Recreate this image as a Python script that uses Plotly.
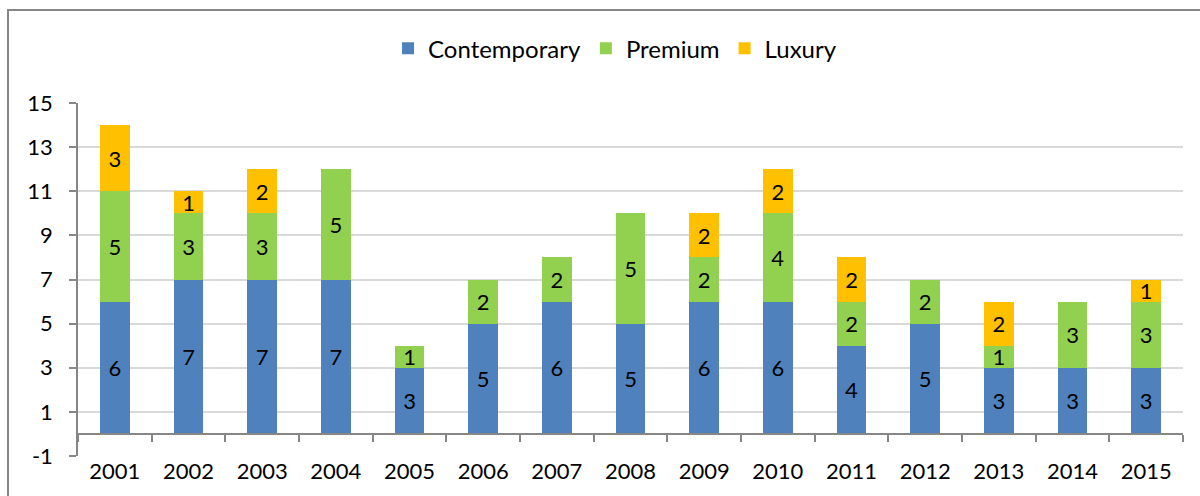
import plotly.graph_objects as go

years = ["2001", "2002", "2003", "2004", "2005", "2006", "2007", "2008",
         "2009", "2010", "2011", "2012", "2013", "2014", "2015"]
contemporary = [6, 7, 7, 7, 3, 5, 6, 5, 6, 6, 4, 5, 3, 3, 3]
premium = [5, 3, 3, 5, 1, 2, 2, 5, 2, 4, 2, 2, 1, 3, 3]
luxury = [3, 1, 2, 0, 0, 0, 0, 0, 2, 2, 2, 0, 2, 0, 1]
y_ticks = [-1, 1, 3, 5, 7, 9, 11, 13, 15]

series = [("Contemporary", contemporary, "#4F81BD"),
          ("Premium", premium, "#92D050"),
          ("Luxury", luxury, "#FFC000")]

FONT = "Lato, Carlito, Calibri, sans-serif"
AXIS = "#868686"
FS = 22

fig = go.Figure()
for name, vals, color in series:
    y = [v if v else None for v in vals]
    fig.add_trace(go.Bar(
        x=years, y=y, name=name,
        marker=dict(color=color, line=dict(width=0)),
        text=[str(v) if v else "" for v in vals],
        textposition="inside", insidetextanchor="middle", textangle=0,
        textfont=dict(size=FS, color="black", family=FONT),
        cliponaxis=False,
    ))

# helper axis drawn at y=0 (category axis crossing)
fig.add_trace(go.Scatter(x=[None], y=[None], xaxis="x2", yaxis="y",
                         showlegend=False, hoverinfo="skip"))

ymin, ymax = -1, 15
fig.update_layout(
    width=1200, height=496,
    barmode="stack", bargap=0.6,
    plot_bgcolor="white", paper_bgcolor="white",
    margin=dict(l=78, r=17, t=103, b=38),
    font=dict(family=FONT, size=FS, color="black"),
    uniformtext=dict(minsize=FS, mode="show"),
    legend=dict(orientation="h", x=0.486, xanchor="center", y=1.154, yanchor="middle",
                traceorder="normal", font=dict(size=24), itemwidth=30,
                bgcolor="rgba(0,0,0,0)"),
    xaxis=dict(type="category", range=[-0.5, 14.5], showline=False, ticks="",
               showgrid=False, tickfont=dict(size=FS), ticklabelstandoff=0),
    xaxis2=dict(overlaying="x", anchor="free", position=(0 - ymin) / (ymax - ymin),
                range=[-0.5, 14.5], tickvals=[i - 0.5 for i in range(16)],
                showticklabels=False, ticks="outside", ticklen=7, tickcolor=AXIS,
                tickwidth=1.5, showline=True, linecolor=AXIS, linewidth=1.5,
                showgrid=False, zeroline=False, side="bottom"),
    yaxis=dict(range=[ymin, ymax], tickvals=y_ticks, ticktext=[str(v) for v in y_ticks],
               showline=True, linecolor=AXIS,
               linewidth=1.5, ticks="outside", ticklen=7, tickcolor=AXIS, tickwidth=1.5,
               showgrid=True, gridcolor="#D9D9D9", gridwidth=1.5, zeroline=False,
               tickfont=dict(size=FS), ticklabelstandoff=12),
    shapes=[dict(type="rect", xref="paper", yref="paper",
                 x0=(8 - 78) / 1105, x1=1.2, y0=-0.5, y1=(458.3 - 9) / 355.6,
                 line=dict(color=AXIS, width=2), fillcolor="rgba(0,0,0,0)", layer="below")],
)

fig.write_html("out.html", config={"displayModeBar": False},
               post_script="document.body.style.margin='0';")
